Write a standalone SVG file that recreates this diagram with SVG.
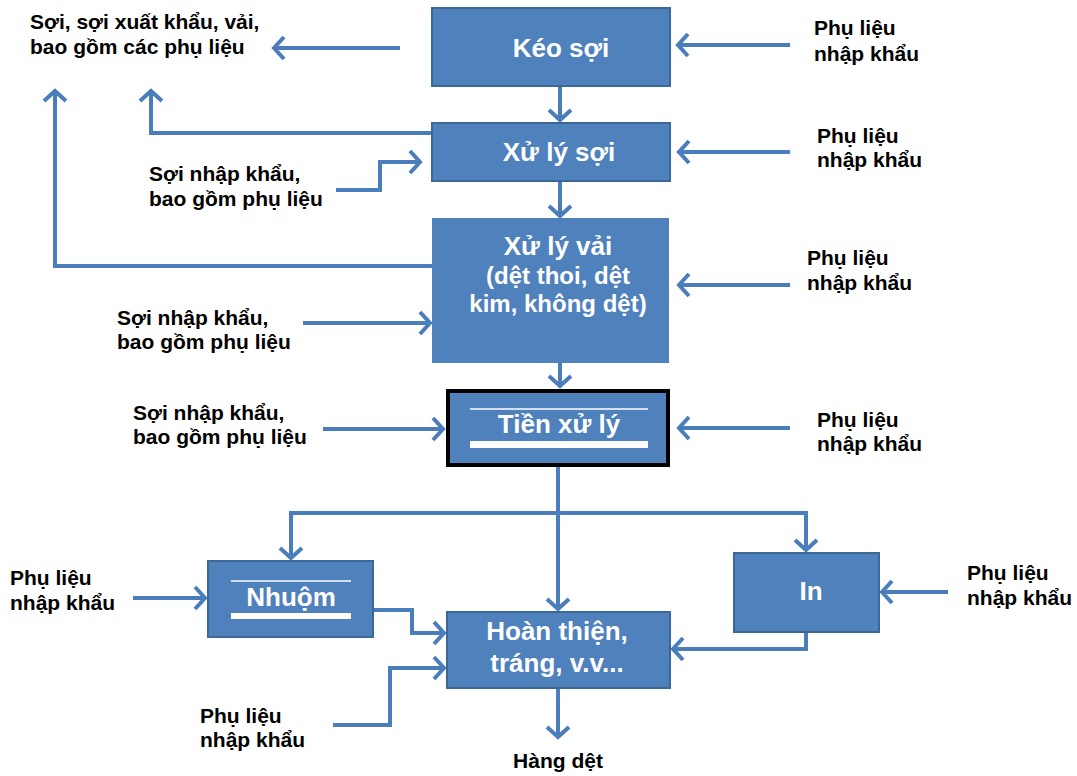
<svg xmlns="http://www.w3.org/2000/svg" width="1077" height="776" viewBox="0 0 1077 776">
<style>
.box{fill:#4f81bd;stroke:#3c6897;stroke-width:2}
.bt{fill:#fff;font-family:"Liberation Sans",Arial,sans-serif;font-weight:bold;font-size:26px;text-anchor:middle}
.bt24{font-size:24px}
.lbl{fill:#000;font-family:"Liberation Sans",Arial,sans-serif;font-weight:bold;font-size:21px}
.c{fill:none;stroke:#4a7dbb;stroke-width:4;marker-end:url(#ah)}
</style>
<defs>
<marker id="ah" markerUnits="userSpaceOnUse" viewBox="-14 -13 16 26" markerWidth="16" markerHeight="26" refX="0" refY="0" orient="auto-start-reverse">
<path d="M-11,-11 L-1,0 L-11,11" fill="none" stroke="#4a7dbb" stroke-width="4"/>
</marker>
</defs>
<rect width="1077" height="776" fill="#fff"/>
<g id="connectors">
<path class="c" d="M560,86 V121"/>
<path class="c" d="M560,181 V217"/>
<path class="c" d="M560,362 V387"/>
<path class="c" d="M558,467 V610"/>
<path class="c" style="marker-start:url(#ah)" d="M291,559 V513 H806 V551"/>
<path class="c" d="M558,688 V738"/>
<path class="c" d="M373,610 H412 V633 H445"/>
<path class="c" d="M333,725 H390 V668 H445"/>
<path class="c" d="M806,632 V649 H672"/>
<path class="c" d="M948,592 H881"/>
<path class="c" d="M133,598 H206"/>
<path class="c" d="M323,429 H444"/>
<path class="c" d="M303,323 H431"/>
<path class="c" d="M336,190 H380 V162 H421"/>
<path class="c" d="M445,133 H151 V90"/>
<path class="c" d="M440,266 H55 V90"/>
<path class="c" d="M400,48 H273"/>
<path class="c" d="M790,45 H677"/>
<path class="c" d="M790,152 H678"/>
<path class="c" d="M790,285 H678"/>
<path class="c" d="M790,428 H678"/>
</g>
<g id="keo-soi">
<rect class="box" x="432" y="8" width="238" height="78"/>
<text class="bt" x="561" y="57">Kéo sợi</text>
</g>
<g id="xu-ly-soi">
<rect class="box" x="432" y="123" width="238" height="58"/>
<text class="bt" x="559" y="161">Xử lý sợi</text>
</g>
<g id="xu-ly-vai">
<rect class="box" x="433" y="219" width="235" height="143" style="stroke:#4f81bd"/>
<text class="bt" x="558" y="255">Xử lý vải</text>
<text class="bt bt24" x="558" y="284">(dệt thoi, dệt</text>
<text class="bt bt24" x="558" y="312">kim, không dệt)</text>
</g>
<g id="tien-xu-ly">
<rect x="448" y="391" width="220" height="74" fill="#4f81bd" stroke="#000" stroke-width="4"/>
<line x1="470" y1="409" x2="648" y2="409" stroke="#fff" stroke-width="1.5"/>
<text class="bt" x="559" y="433">Tiền xử lý</text>
<rect x="470" y="441" width="178" height="7" fill="#fff"/>
</g>
<g id="nhuom">
<rect class="box" x="208" y="561" width="165" height="76"/>
<line x1="231" y1="581" x2="351" y2="581" stroke="#fff" stroke-width="1.5"/>
<text class="bt" x="291" y="606">Nhuộm</text>
<rect x="231" y="613" width="120" height="6" fill="#fff"/>
</g>
<g id="hoan-thien">
<rect class="box" x="447" y="612" width="223" height="76"/>
<text class="bt" x="557" y="640">Hoàn thiện,</text>
<text class="bt" x="557" y="672">tráng, v.v...</text>
</g>
<g id="in">
<rect class="box" x="734" y="553" width="145" height="79"/>
<text class="bt" x="811" y="600">In</text>
</g>
<g id="labels">
<text class="lbl" x="30" y="29">Sợi, sợi xuất khẩu, vải,</text>
<text class="lbl" x="30" y="54">bao gồm các phụ liệu</text>
<text class="lbl" x="814" y="35">Phụ liệu</text>
<text class="lbl" x="814" y="61">nhập khẩu</text>
<text class="lbl" x="149" y="181">Sợi nhập khẩu,</text>
<text class="lbl" x="149" y="206">bao gồm phụ liệu</text>
<text class="lbl" x="817" y="143">Phụ liệu</text>
<text class="lbl" x="817" y="167">nhập khẩu</text>
<text class="lbl" x="807" y="265">Phụ liệu</text>
<text class="lbl" x="807" y="290">nhập khẩu</text>
<text class="lbl" x="117" y="325">Sợi nhập khẩu,</text>
<text class="lbl" x="117" y="349">bao gồm phụ liệu</text>
<text class="lbl" x="133" y="420">Sợi nhập khẩu,</text>
<text class="lbl" x="133" y="444">bao gồm phụ liệu</text>
<text class="lbl" x="817" y="427">Phụ liệu</text>
<text class="lbl" x="817" y="451">nhập khẩu</text>
<text class="lbl" x="10" y="585">Phụ liệu</text>
<text class="lbl" x="10" y="610">nhập khẩu</text>
<text class="lbl" x="967" y="580">Phụ liệu</text>
<text class="lbl" x="967" y="605">nhập khẩu</text>
<text class="lbl" x="200" y="723">Phụ liệu</text>
<text class="lbl" x="200" y="747">nhập khẩu</text>
<text class="lbl" x="558" y="768" text-anchor="middle">Hàng dệt</text>
</g>
</svg>
